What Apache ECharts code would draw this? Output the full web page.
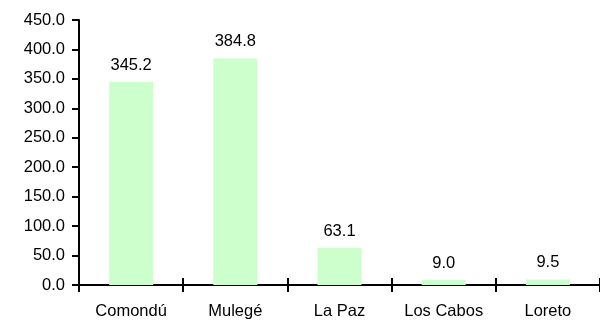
<!DOCTYPE html>
<html>
<head>
<meta charset="utf-8">
<script src="https://cdn.jsdelivr.net/npm/echarts@6/dist/echarts.min.js"></script>
<style>
  html, body { margin: 0; padding: 0; background: #ffffff; }
  #chart { width: 600px; height: 321px; }
</style>
</head>
<body>
<div id="chart"></div>
<script>
// Municipalities and their values
const categories = ['Comondú', 'Mulegé', 'La Paz', 'Los Cabos', 'Loreto'];
const values = [345.2, 384.8, 63.1, 9.0, 9.5];
const yTicks = [0, 50, 100, 150, 200, 250, 300, 350, 400, 450];

const FONT = 'Liberation Sans, Arial, sans-serif';
const FS = 16.5;

const chart = echarts.init(document.getElementById('chart'), null, { renderer: 'canvas' });

chart.setOption({
  animation: false,
  backgroundColor: '#ffffff',
  grid: { left: 79, top: 20, bottom: 36, width: 537, containLabel: false },
  xAxis: [
    {
      type: 'category',
      data: categories,
      boundaryGap: true,
      axisLine: { show: true, lineStyle: { color: '#000', width: 2 } },
      axisTick: { show: true, inside: false, length: 7, lineStyle: { color: '#000', width: 2 } },
      axisLabel: { color: '#000', fontFamily: FONT, fontSize: FS, margin: 18, interval: 0 },
      splitLine: { show: false }
    },
    {
      // upper half of the crossing tick marks
      type: 'category',
      data: categories,
      position: 'bottom',
      boundaryGap: true,
      axisLine: { show: false },
      axisTick: { show: true, inside: true, length: 7, lineStyle: { color: '#000', width: 2 } },
      axisLabel: { show: false },
      splitLine: { show: false }
    }
  ],
  yAxis: {
    type: 'value',
    min: yTicks[0],
    max: yTicks[yTicks.length - 1],
    interval: yTicks[1] - yTicks[0],
    axisLine: { show: true, lineStyle: { color: '#000', width: 2 } },
    axisTick: { show: true, inside: false, length: 7, lineStyle: { color: '#000', width: 2 } },
    axisLabel: {
      color: '#000', fontFamily: FONT, fontSize: FS, margin: 14,
      formatter: v => v.toFixed(1)
    },
    splitLine: { show: false }
  },
  series: [{
    type: 'bar',
    xAxisIndex: 0,
    data: values,
    barWidth: 44,
    itemStyle: { color: '#CCFFCC' },
    label: {
      show: true,
      position: 'top',
      distance: 8,
      color: '#000',
      fontFamily: FONT,
      fontSize: FS,
      formatter: p => p.value.toFixed(1)
    }
  }]
});
</script>
</body>
</html>
